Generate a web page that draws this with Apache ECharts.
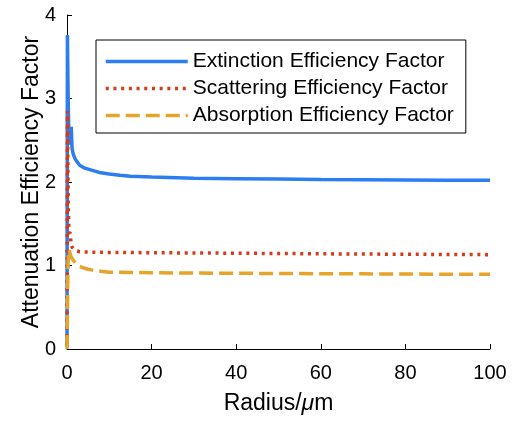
<!DOCTYPE html>
<html>
<head>
<meta charset="utf-8">
<script src="https://cdn.jsdelivr.net/npm/echarts@6/dist/echarts.min.js"></script>
<style>
  html, body { margin: 0; padding: 0; background: #fff; }
  #chart { width: 517px; height: 421px; }
</style>
</head>
<body>
<div id="chart"></div>
<script>
// radius in um
var radius = [0, 0.05, 0.1, 0.2, 0.3, 0.5, 0.7, 1, 1.2, 1.5, 2, 3, 4, 5, 6, 8, 10, 12.5, 15, 20, 30, 40, 50, 60, 70, 80, 90, 100]
var extinction = [0.02, 2.0, 3.76, 3.3, 2.9, 2.45, 2.45, 2.66, 2.4, 2.33, 2.27, 2.2, 2.17, 2.155, 2.14, 2.11, 2.095, 2.08, 2.07, 2.06, 2.045, 2.04, 2.035, 2.03, 2.028, 2.025, 2.022, 2.02]
var scattering = [0.05, 1.5, 2.85, 2.2, 1.7, 1.35, 1.4, 1.25, 1.22, 1.2, 1.18, 1.165, 1.162, 1.16, 1.16, 1.158, 1.157, 1.156, 1.155, 1.153, 1.15, 1.147, 1.144, 1.14, 1.137, 1.135, 1.132, 1.13]
var absorption = [0, 0.2, 0.4, 0.9, 1.1, 1.19, 1.15, 1.1, 1.08, 1.06, 1.03, 0.99, 0.97, 0.955, 0.945, 0.93, 0.92, 0.918, 0.916, 0.913, 0.91, 0.907, 0.904, 0.902, 0.9, 0.898, 0.896, 0.895]
var names = ['Extinction Efficiency Factor', 'Scattering Efficiency Factor', 'Absorption Efficiency Factor']

function pairs(ys) {
  return radius.map(function (r, i) { return [r, ys[i]] })
}

var font = 'Liberation Sans, Arial, sans-serif'
var chart = echarts.init(document.getElementById('chart'))

chart.setOption({
  animation: false,
  grid: { left: 67, right: 27, top: 15, bottom: 72 },
  legend: {
    orient: 'vertical',
    left: 96,
    top: 40,
    itemWidth: 82,
    itemHeight: 14,
    itemGap: 6,
    padding: [11, 12, 7, 8],
    borderColor: '#000',
    borderWidth: 1,
    backgroundColor: '#fff',
    itemStyle: { opacity: 0 },
    lineStyle: { width: 3.5 },
    textStyle: { fontFamily: font, fontSize: 21, lineHeight: 21, color: '#000' },
    data: names
  },
  xAxis: {
    type: 'value',
    min: 0, max: 100, interval: 20,
    name: 'Radius/{i|μ}m',
    nameLocation: 'middle',
    nameGap: 43,
    nameMoveOverlap: false,
    nameTextStyle: {
      fontFamily: font, fontSize: 23, color: '#000',
      rich: { i: { fontFamily: font, fontSize: 23, fontStyle: 'italic', color: '#000' } }
    },
    axisLine: { lineStyle: { color: '#000', width: 1 } },
    axisTick: { inside: true, length: 5, lineStyle: { color: '#000' } },
    axisLabel: { fontFamily: font, fontSize: 20, color: '#000', margin: 14 },
    splitLine: { show: false }
  },
  yAxis: {
    type: 'value',
    min: 0, max: 4, interval: 1,
    name: 'Attenuation Efficiency Factor',
    nameLocation: 'middle',
    nameGap: 24,
    nameMoveOverlap: false,
    nameTextStyle: { fontFamily: font, fontSize: 23, color: '#000' },
    axisLine: { show: true, lineStyle: { color: '#000', width: 1 } },
    axisTick: { show: true, inside: true, length: 5, lineStyle: { color: '#000' } },
    axisLabel: { fontFamily: font, fontSize: 20, color: '#000', margin: 11 },
    splitLine: { show: false }
  },
  series: [
    {
      name: names[0], type: 'line', symbol: 'none',
      data: pairs(extinction),
      lineStyle: { color: '#2c7ef0', width: 3.5 },
      itemStyle: { color: '#2c7ef0' }
    },
    {
      name: names[1], type: 'line', symbol: 'none',
      data: pairs(scattering),
      lineStyle: { color: '#d53a1a', width: 3.5, type: [3, 4.7] },
      itemStyle: { color: '#d53a1a' }
    },
    {
      name: names[2], type: 'line', symbol: 'none',
      data: pairs(absorption),
      lineStyle: { color: '#e6a428', width: 3.5, type: [14, 6] },
      itemStyle: { color: '#e6a428' }
    }
  ]
})
</script>
</body>
</html>
